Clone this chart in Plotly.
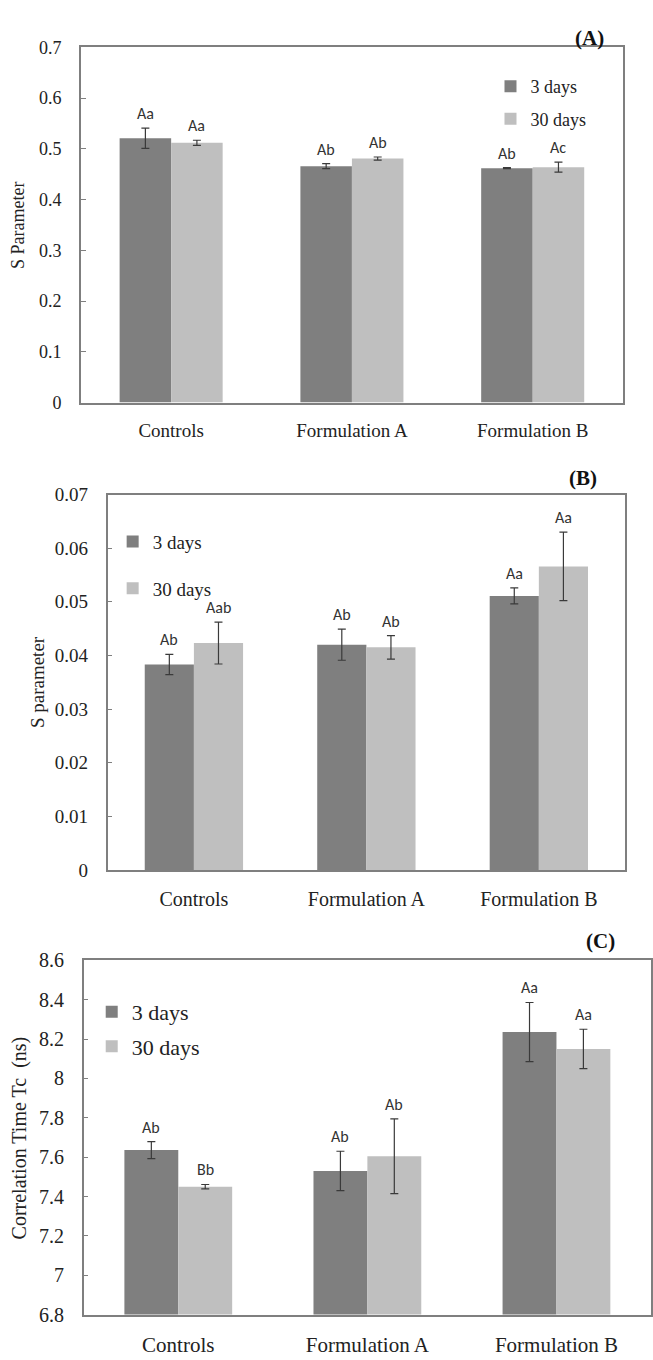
import plotly.graph_objects as go

categories = ["Controls", "Formulation A", "Formulation B"]
series_names = ["3 days", "30 days"]

# Panel A: S Parameter
a_3d = [0.521, 0.466, 0.462]
a_3d_err = [0.020, 0.005, 0.001]
a_30d = [0.512, 0.481, 0.464]
a_30d_err = [0.005, 0.003, 0.010]
a_lbl_3d = ["Aa", "Ab", "Ab"]
a_lbl_30d = ["Aa", "Ab", "Ac"]

# Panel B: S parameter
b_3d = [0.0383, 0.0420, 0.0511]
b_3d_err = [0.0019, 0.0029, 0.0015]
b_30d = [0.0423, 0.0415, 0.0566]
b_30d_err = [0.0039, 0.0022, 0.0064]
b_lbl_3d = ["Ab", "Ab", "Aa"]
b_lbl_30d = ["Aab", "Ab", "Aa"]

# Panel C: Correlation time
c_3d = [7.636, 7.530, 8.236]
c_3d_err = [0.043, 0.100, 0.150]
c_30d = [7.450, 7.605, 8.150]
c_30d_err = [0.011, 0.190, 0.100]
c_lbl_3d = ["Ab", "Ab", "Aa"]
c_lbl_30d = ["Bb", "Ab", "Aa"]

W, H = 653, 1360
DARK, LIGHT = "#7f7f7f", "#bfbfbf"
SERIF = "Liberation Serif"
SANS = "Carlito, Liberation Sans Narrow, Lato, sans-serif"
BARGAP = 0.43

def px_x(v):
    return v / W

def px_y(v):
    return 1 - v / H

panels = [
    dict(key="", vals=(a_3d, a_30d), errs=(a_3d_err, a_30d_err), lbls=(a_lbl_3d, a_lbl_30d),
         xdom=(81, 625), ydom=(37, 398), yrange=[0, 0.7], dtick=0.1,
         tickfs=18, catfs=19, legfs=18, title="S Parameter", title_x=18, titlefs=18,
         tag="(A)", tag_xy=(591, 27), leg_xy=(492, 58), leg_gap=6),
    dict(key="2", vals=(b_3d, b_30d), errs=(b_3d_err, b_30d_err), lbls=(b_lbl_3d, b_lbl_30d),
         xdom=(108, 627), ydom=(491.5, 873), yrange=[0, 0.07], dtick=0.01,
         tickfs=19, catfs=20, legfs=19, title="S parameter", title_x=37, titlefs=19,
         tag="(B)", tag_xy=(585, 475), leg_xy=(113, 520), leg_gap=19),
    dict(key="3", vals=(c_3d, c_30d), errs=(c_3d_err, c_30d_err), lbls=(c_lbl_3d, c_lbl_30d),
         xdom=(84, 653), ydom=(965, 1325), yrange=[6.8, 8.6], dtick=0.2,
         tickfs=20, catfs=21, legfs=22, title="Correlation Time Tc  (ns)", title_x=20, titlefs=20,
         tag="(C)", tag_xy=(602, 945), leg_xy=(92, 996), leg_gap=3),
]

fig = go.Figure()
annotations = []
layout = {}
off = (1 - BARGAP) / 4

for p in panels:
    k = p["key"]
    xa, ya = "x" + k, "y" + k
    leg = "legend" + k
    for i, (name, color) in enumerate(zip(series_names, [DARK, LIGHT])):
        fig.add_trace(go.Bar(
            x=categories, y=p["vals"][i], name=name, marker=dict(color=color, line=dict(width=0)),
            error_y=dict(type="data", array=p["errs"][i], color="#3a3a3a", thickness=1.2, width=4),
            xaxis=xa, yaxis=ya, legend=leg, legendgroup=k + name, showlegend=True,
        ))
        for j, cat in enumerate(categories):
            annotations.append(dict(
                x=j + (-off if i == 0 else off), y=p["vals"][i][j] + p["errs"][i][j],
                xref=xa, yref=ya, text=p["lbls"][i][j], showarrow=False,
                yanchor="bottom", yshift=3, font=dict(family=SANS, size=16, color="#333333"),
            ))
    x0, x1 = p["xdom"]
    y0, y1 = p["ydom"]
    axis_common = dict(showline=True, linecolor="#7f7f7f", linewidth=1.5, mirror=True,
                       showgrid=False, zeroline=False)
    layout["xaxis" + k] = dict(domain=[px_x(x0), px_x(x1)], anchor=ya, type="category",
                               ticks="", tickfont=dict(family=SERIF, size=p["catfs"], color="#222222"),
                               ticklabelstandoff=10, **axis_common)
    layout["yaxis" + k] = dict(domain=[px_y(y1), px_y(y0)], anchor=xa, range=p["yrange"],
                               dtick=p["dtick"], tick0=p["yrange"][0], ticks="inside", ticklen=5,
                               tickcolor="#7f7f7f",
                               tickfont=dict(family=SERIF, size=p["tickfs"], color="#222222"),
                               ticklabelstandoff=14, **axis_common)
    lx, ly = p["leg_xy"]
    layout[leg] = dict(x=px_x(lx), y=px_y(ly), xanchor="left", yanchor="top",
                       xref="paper", yref="paper", bgcolor="rgba(0,0,0,0)",
                       font=dict(family=SERIF, size=p["legfs"], color="#222222"),
                       tracegroupgap=p["leg_gap"], traceorder="grouped")
    tx, ty = p["tag_xy"]
    annotations.append(dict(x=px_x(tx), y=px_y(ty), xref="paper", yref="paper", text="<b>%s</b>" % p["tag"],
                            showarrow=False, xanchor="center", yanchor="middle",
                            font=dict(family=SERIF, size=21, color="#111111")))
    annotations.append(dict(x=px_x(p["title_x"]), y=px_y((y0 + y1) / 2), xref="paper", yref="paper",
                            text=p["title"], textangle=-90, showarrow=False,
                            xanchor="center", yanchor="middle",
                            font=dict(family=SERIF, size=p["titlefs"], color="#222222")))

fig.update_layout(
    width=W, height=H, margin=dict(l=0, r=0, t=0, b=0),
    paper_bgcolor="white", plot_bgcolor="white",
    barmode="group", bargap=BARGAP, bargroupgap=0,
    annotations=annotations, **layout,
)

fig.write_html("out.html", config={"displayModeBar": False},
               post_script="document.body.style.margin='0px';")
